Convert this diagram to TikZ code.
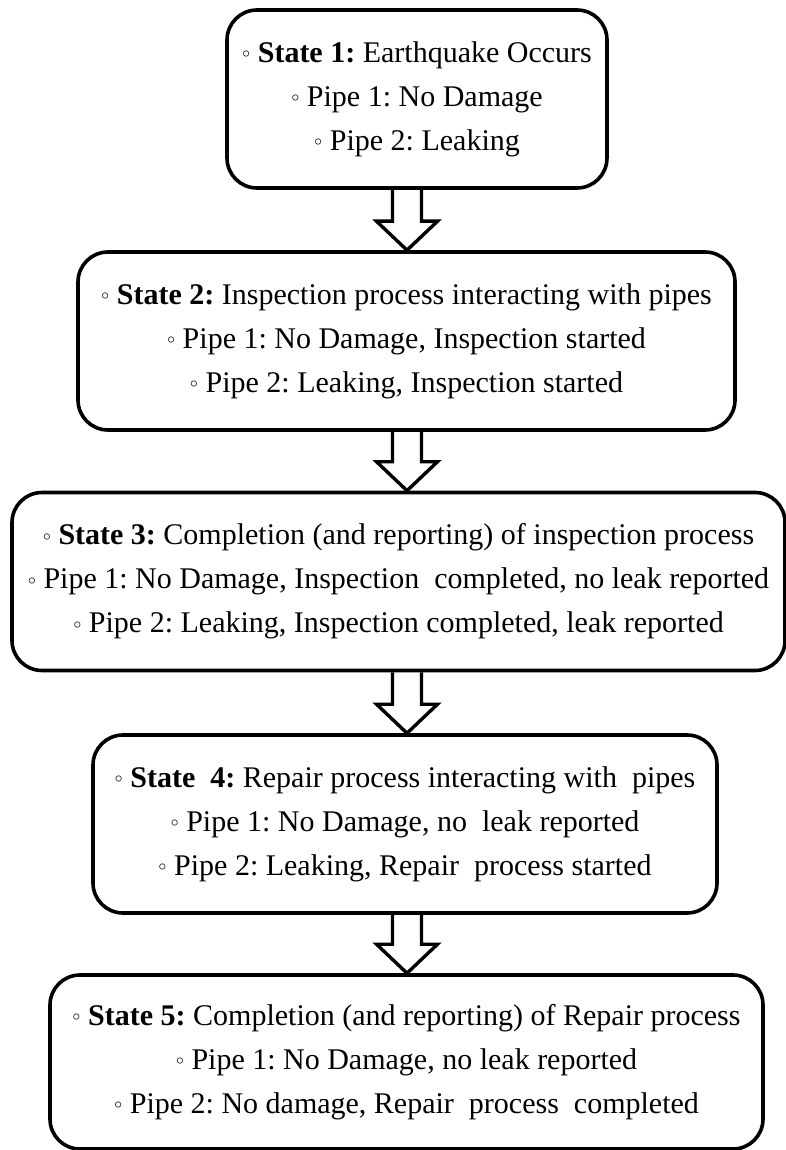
\documentclass[tikz,border=0pt]{standalone}
\usepackage{fontspec}
\setmainfont{Liberation Serif}
\usepackage{tikz}
\usetikzlibrary{calc}
\frenchspacing

\newcommand{\stbullet}{\raisebox{0.15em}{$\scriptscriptstyle\circ$}}
\tikzset{
  statebox/.style={draw, line width=1.8pt, rounded corners=15pt, align=center,
    minimum height=89pt, inner sep=0pt,
    font=\fontsize{15}{22}\selectfont},
  blockarrow/.style={draw, line width=1.7pt, line join=miter},
}
\newcommand{\flowarrow}[2]{%
  \draw[blockarrow] let \p1=(#1.south -| axis), \p2=(#2.north -| axis) in
    (\x1-7.25pt,\y1) -- (\x1-7.25pt,\y2+14.5pt) -- (\x1-15.25pt,\y2+14.5pt)
    -- (\x2,\y2) -- (\x1+15.25pt,\y2+14.5pt) -- (\x1+7.25pt,\y2+14.5pt)
    -- (\x1+7.25pt,\y1);
}

\begin{document}
\begin{tikzpicture}[x=0.5pt, y=-0.5pt]
  \useasboundingbox (0,0) rectangle (786,1150);
  \coordinate (axis) at (407,0);

  % the five states, top to bottom
  \node[statebox, minimum width=190pt] (s1) at (417,99)
    {\stbullet{} \textbf{State 1:} Earthquake Occurs\\
     \stbullet{} Pipe 1: No Damage\\
     \stbullet{} Pipe 2: Leaking};
  \node[statebox, minimum width=328.5pt] (s2) at (406.5,341)
    {\stbullet{} \textbf{State 2:} Inspection process interacting with pipes\\
     \stbullet{} Pipe 1: No Damage, Inspection started\\
     \stbullet{} Pipe 2: Leaking, Inspection started};
  \node[statebox, minimum width=386.5pt] (s3) at (398.5,581.5)
    {\stbullet{} \textbf{State 3:} Completion (and reporting) of inspection process\\
     \stbullet{} Pipe 1: No Damage, Inspection\ \ completed, no leak reported\\
     \stbullet{} Pipe 2: Leaking, Inspection completed, leak reported};
  \node[statebox, minimum width=312pt] (s4) at (405,824)
    {\stbullet{} \textbf{State\ \ 4:} Repair process interacting with\ \ pipes\\
     \stbullet{} Pipe 1: No Damage, no\ \ leak reported\\
     \stbullet{} Pipe 2: Leaking, Repair\ \ process started};
  \node[statebox, minimum width=356.5pt, minimum height=87pt] (s5) at (406.5,1062)
    {\stbullet{} \textbf{State 5:} Completion (and reporting) of Repair process\\
     \stbullet{} Pipe 1: No Damage, no leak reported\\
     \stbullet{} Pipe 2: No damage, Repair\ \ process\ \ completed};

  % hollow arrows between states
  \flowarrow{s1}{s2}
  \flowarrow{s2}{s3}
  \flowarrow{s3}{s4}
  \flowarrow{s4}{s5}
\end{tikzpicture}
\end{document}
